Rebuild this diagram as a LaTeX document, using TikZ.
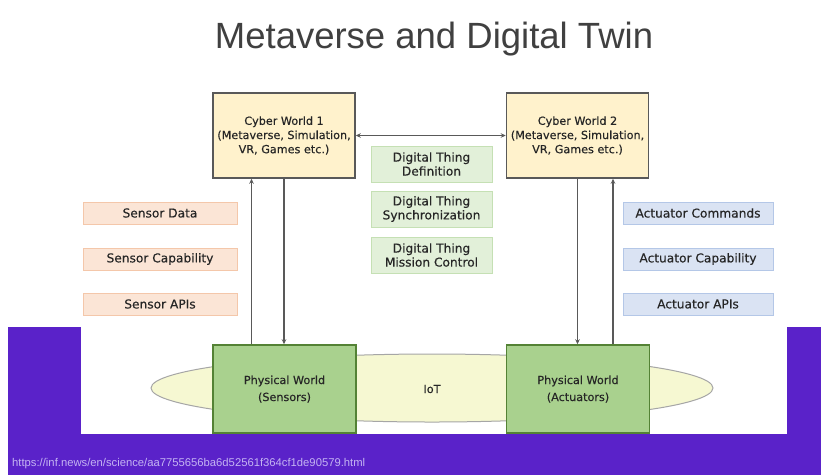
\documentclass[tikz,border=0pt]{standalone}
\usepackage{fontspec}
\setmainfont{DejaVu Sans}
\newfontfamily\boxfont[FakeBold=0.35]{DejaVu Sans}
\newfontfamily\titlefont{Liberation Sans}
\usetikzlibrary{arrows.meta,shapes.geometric}
\definecolor{slidepurple}{HTML}{5A22C9}
\definecolor{linkcol}{HTML}{C4B4F2}
\definecolor{linegray}{HTML}{595959}
\definecolor{titlegray}{HTML}{404040}
\definecolor{cyberfill}{HTML}{FFF2CC}
\definecolor{dtfill}{HTML}{E2F0D9}
\definecolor{dtline}{HTML}{C5E0B4}
\definecolor{sensfill}{HTML}{FBE5D6}
\definecolor{sensline}{HTML}{F4C7AA}
\definecolor{actfill}{HTML}{DAE3F3}
\definecolor{actline}{HTML}{B4C7E7}
\definecolor{physfill}{HTML}{A9D18E}
\definecolor{physline}{HTML}{548235}
\definecolor{iotfill}{HTML}{F6F8D2}
\definecolor{iotline}{HTML}{A6A6A6}
\tikzset{
  boxtext/.style={font=\boxfont\fontsize{11.2}{14.2}\selectfont, text=black!85, align=center, inner sep=0pt},
  bigtext/.style={font=\boxfont\fontsize{12.2}{14}\selectfont},
  cyberbox/.style={boxtext, draw=linegray, line width=1.5pt, fill=cyberfill, minimum width=142pt, minimum height=85pt},
  dtbox/.style={boxtext, bigtext, draw=dtline, line width=1pt, fill=dtfill, minimum width=121pt, minimum height=36pt},
  sensbox/.style={boxtext, bigtext, draw=sensline, line width=1pt, fill=sensfill, minimum width=154pt, minimum height=22pt},
  actbox/.style={boxtext, bigtext, draw=actline, line width=1pt, fill=actfill, minimum width=150pt, minimum height=22pt},
  physbox/.style={boxtext, font=\boxfont\fontsize{11.2}{17}\selectfont, draw=physline, line width=1.5pt, fill=physfill, minimum width=143pt, minimum height=88pt},
  link/.style={draw=linegray, line width=1.5pt},
  linkarrow/.style={link, -{Stealth[length=5pt,width=4.5pt]}},
}
\begin{document}
\begin{tikzpicture}[x=1pt,y=-1pt]
\useasboundingbox (0,0) rectangle (821,475);
\fill[white] (0,0) rectangle (821,475);
% purple frame round the lower part of the slide
\fill[slidepurple] (8,327) rectangle (821,475);
\fill[white] (81,327) rectangle (787,434);

% title
\node[font=\titlefont\fontsize{36.5}{40}\selectfont, text=titlegray, anchor=base] (title) at (434,48) {Metaverse and Digital Twin};

% IoT ring
\node[ellipse, draw=iotline, line width=1pt, fill=iotfill, minimum width=562pt, minimum height=68pt, inner sep=0pt] (iot) at (432,388) {};
\node[boxtext] (iottext) at (432,389) {IoT};

% cyber worlds
\node[cyberbox] (cw1) at (284,135.5) {Cyber World 1\\(Metaverse, Simulation,\\VR, Games etc.)};
\node[cyberbox] (cw2) at (577.5,135.5) {Cyber World 2\\(Metaverse, Simulation,\\VR, Games etc.)};

% digital thing functions
\node[dtbox] (dt1) at (431.5,164) {Digital Thing\\Definition};
\node[dtbox] (dt2) at (431.5,209) {Digital Thing\\Synchronization};
\node[dtbox] (dt3) at (431.5,255) {Digital Thing\\Mission Control};

% sensor side
\node[sensbox] (s1) at (160,213) {Sensor Data};
\node[sensbox] (s2) at (160,259) {Sensor Capability};
\node[sensbox] (s3) at (160,304) {Sensor APIs};

% actuator side
\node[actbox] (a1) at (698,213) {Actuator Commands};
\node[actbox] (a2) at (698,259) {Actuator Capability};
\node[actbox] (a3) at (698,304) {Actuator APIs};

% physical worlds
\node[physbox] (pw1) at (284.5,389) {Physical World\\(Sensors)};
\node[physbox] (pw2) at (578,389) {Physical World\\(Actuators)};

% connectors
\draw[link, {Stealth[length=5pt,width=4.5pt]}-{Stealth[length=5pt,width=4.5pt]}] (cw1.east) -- (cw2.west);
\draw[linkarrow] ([xshift=-33pt]pw1.north) -- ([xshift=-33pt]pw1.north |- cw1.south);
\draw[linkarrow] (cw1.south) -- (cw1.south |- pw1.north);
\draw[linkarrow] (cw2.south) -- (cw2.south |- pw2.north);
\draw[linkarrow] ([xshift=35pt]pw2.north) -- ([xshift=35pt]pw2.north |- cw2.south);

% source link
\node[anchor=base west, inner sep=0pt, text=linkcol] (src) at (12,466)
  {\resizebox{353pt}{!}{\fontsize{9}{10}\selectfont\titlefont https://inf.news/en/science/aa7755656ba6d52561f364cf1de90579.html}};
\end{tikzpicture}
\end{document}
